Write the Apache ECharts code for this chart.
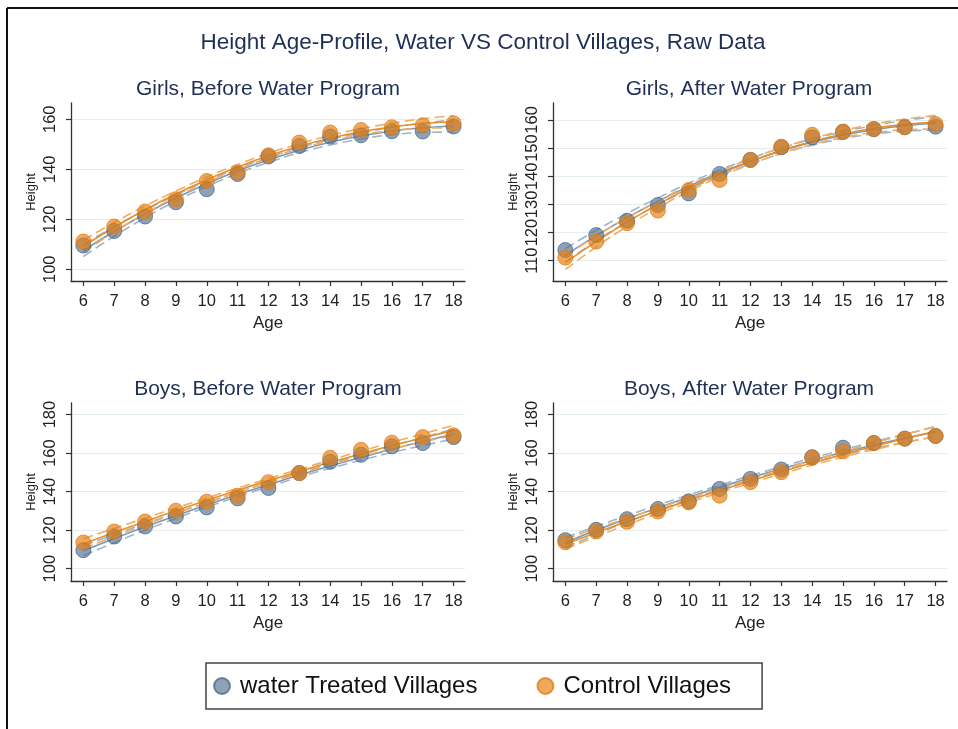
<!DOCTYPE html>
<html>
<head>
<meta charset="utf-8">
<script src="https://cdn.jsdelivr.net/npm/echarts@6/dist/echarts.min.js"></script>
<style>
  html, body { margin: 0; padding: 0; background: #fff; }
  #chart { width: 958px; height: 729px; }
</style>
</head>
<body>
<div id="chart"></div>
<script>
// ages on the x axis
var ages = [6, 7, 8, 9, 10, 11, 12, 13, 14, 15, 16, 17, 18];

// Girls, before
var girlsBeforeTreated = [109.5, 115.3, 121.1, 126.8, 132.0, 138.1, 145.1, 149.3, 153.1, 153.6, 155.2, 155.1, 157.1];
var girlsBeforeTreatedFit = [107.5, 115.1, 122.1, 128.5, 134.2, 139.3, 143.7, 147.6, 150.8, 153.3, 155.3, 156.6, 157.3];
var girlsBeforeTreatedLo = [105.1, 113.2, 120.6, 127.3, 133.1, 138.3, 142.7, 146.6, 149.7, 152.1, 153.8, 154.7, 154.9];
var girlsBeforeTreatedHi = [109.9, 117.0, 123.6, 129.7, 135.3, 140.3, 144.7, 148.6, 151.9, 154.5, 156.8, 158.5, 159.7];
var girlsBeforeControl = [111.1, 117.1, 123.1, 128.0, 135.3, 138.7, 145.6, 150.7, 154.7, 155.7, 156.8, 157.6, 158.4];
var girlsBeforeControlFit = [109.2, 116.8, 123.8, 130.1, 135.8, 140.9, 145.4, 149.2, 152.4, 155.0, 156.9, 158.3, 159.0];
var girlsBeforeControlLo = [106.8, 114.9, 122.3, 128.9, 134.7, 139.9, 144.4, 148.2, 151.3, 153.8, 155.4, 156.4, 156.6];
var girlsBeforeControlHi = [111.6, 118.7, 125.3, 131.3, 136.9, 141.9, 146.4, 150.2, 153.5, 156.2, 158.4, 160.2, 161.4];

// Girls, after
var girlsAfterTreated = [113.8, 119.1, 124.2, 129.8, 133.9, 140.8, 145.8, 150.3, 153.8, 155.7, 156.7, 157.4, 157.6];
var girlsAfterTreatedFit = [111.9, 118.9, 125.3, 131.1, 136.4, 141.2, 145.3, 149.0, 152.1, 154.6, 156.5, 157.9, 158.8];
var girlsAfterTreatedLo = [109.5, 117.0, 123.8, 129.9, 135.3, 140.2, 144.3, 148.0, 151.0, 153.4, 155.0, 156.0, 156.4];
var girlsAfterTreatedHi = [114.3, 120.8, 126.8, 132.3, 137.5, 142.2, 146.3, 150.0, 153.2, 155.8, 158.0, 159.8, 161.2];
var girlsAfterControl = [111.1, 116.8, 123.3, 127.8, 135.1, 138.7, 145.8, 150.5, 154.7, 155.9, 156.8, 157.4, 158.5];
var girlsAfterControlFit = [109.3, 116.8, 123.7, 130.0, 135.7, 140.8, 145.2, 149.1, 152.3, 155.0, 157.0, 158.4, 159.2];
var girlsAfterControlLo = [106.9, 114.9, 122.2, 128.8, 134.6, 139.8, 144.2, 148.1, 151.2, 153.8, 155.5, 156.5, 156.8];
var girlsAfterControlHi = [111.7, 118.7, 125.2, 131.2, 136.8, 141.8, 146.2, 150.1, 153.4, 156.2, 158.5, 160.3, 161.6];

// Boys, before
var boysBeforeTreated = [109.6, 116.7, 121.9, 127.1, 131.8, 136.5, 141.9, 149.6, 155.5, 159.1, 163.5, 165.2, 168.3];
var boysBeforeTreatedFit = [109.3, 115.6, 121.7, 127.5, 133.1, 138.5, 143.6, 148.6, 153.3, 157.7, 162.0, 166.0, 169.9];
var boysBeforeTreatedLo = [106.7, 113.5, 120.0, 126.1, 131.9, 137.4, 142.5, 147.5, 152.1, 156.3, 160.3, 163.9, 167.3];
var boysBeforeTreatedHi = [111.9, 117.7, 123.4, 128.9, 134.3, 139.6, 144.7, 149.7, 154.5, 159.1, 163.7, 168.1, 172.5];
var boysBeforeControl = [113.6, 119.3, 124.5, 130.1, 134.8, 137.9, 144.9, 149.7, 157.6, 161.7, 165.4, 168.3, 169.2];
var boysBeforeControlFit = [112.9, 118.8, 124.5, 130.1, 135.5, 140.7, 145.7, 150.5, 155.2, 159.6, 163.9, 167.9, 171.8];
var boysBeforeControlLo = [110.3, 116.7, 122.8, 128.7, 134.3, 139.6, 144.6, 149.4, 154.0, 158.2, 162.2, 165.8, 169.2];
var boysBeforeControlHi = [115.5, 120.9, 126.2, 131.5, 136.7, 141.8, 146.8, 151.6, 156.4, 161.0, 165.6, 170.0, 174.4];

// Boys, after
var boysAfterTreated = [114.8, 120.2, 125.7, 131.0, 135.0, 141.4, 146.6, 151.5, 157.9, 162.8, 165.2, 167.5, 168.9];
var boysAfterTreatedFit = [113.6, 119.9, 125.9, 131.6, 137.1, 142.2, 147.2, 151.8, 156.2, 160.3, 164.2, 167.7, 171.0];
var boysAfterTreatedLo = [111.0, 117.8, 124.2, 130.2, 135.9, 141.1, 146.1, 150.7, 155.0, 158.9, 162.5, 165.6, 168.4];
var boysAfterTreatedHi = [116.2, 122.0, 127.6, 133.0, 138.3, 143.3, 148.3, 152.9, 157.4, 161.7, 165.9, 169.8, 173.6];
var boysAfterControl = [113.7, 119.3, 124.3, 129.7, 134.4, 137.9, 144.9, 150.1, 157.6, 160.9, 165.2, 167.5, 168.9];
var boysAfterControlFit = [112.8, 118.7, 124.5, 130.0, 135.4, 140.6, 145.5, 150.3, 154.9, 159.3, 163.5, 167.5, 171.3];
var boysAfterControlLo = [110.2, 116.6, 122.8, 128.6, 134.2, 139.5, 144.4, 149.2, 153.7, 157.9, 161.8, 165.4, 168.7];
var boysAfterControlHi = [115.4, 120.8, 126.2, 131.4, 136.6, 141.7, 146.6, 151.4, 156.1, 160.7, 165.2, 169.6, 173.9];

// tick labels
var girlsTicks = [100, 120, 140, 160];
var girlsAfterTicks = [110, 120, 130, 140, 150, 160];
var boysTicks = [100, 120, 140, 160, 180];

var panels = [
  { title: "Girls, Before Water Program", cx: 263, ty: 74, left: 71, top: 103, yMin: 95.3, yMax: 166.5, ticks: girlsTicks,
    t: girlsBeforeTreated, tFit: girlsBeforeTreatedFit, tLo: girlsBeforeTreatedLo, tHi: girlsBeforeTreatedHi,
    c: girlsBeforeControl, cFit: girlsBeforeControlFit, cLo: girlsBeforeControlLo, cHi: girlsBeforeControlHi },
  { title: "Girls, After Water Program", cx: 744, ty: 74, left: 553, top: 103, yMin: 102.8, yMax: 166.0, ticks: girlsAfterTicks,
    t: girlsAfterTreated, tFit: girlsAfterTreatedFit, tLo: girlsAfterTreatedLo, tHi: girlsAfterTreatedHi,
    c: girlsAfterControl, cFit: girlsAfterControlFit, cLo: girlsAfterControlLo, cHi: girlsAfterControlHi },
  { title: "Boys, Before Water Program", cx: 263, ty: 374, left: 71, top: 403, yMin: 93.6, yMax: 186.0, ticks: boysTicks,
    t: boysBeforeTreated, tFit: boysBeforeTreatedFit, tLo: boysBeforeTreatedLo, tHi: boysBeforeTreatedHi,
    c: boysBeforeControl, cFit: boysBeforeControlFit, cLo: boysBeforeControlLo, cHi: boysBeforeControlHi },
  { title: "Boys, After Water Program", cx: 744, ty: 374, left: 553, top: 403, yMin: 93.6, yMax: 186.0, ticks: boysTicks,
    t: boysAfterTreated, tFit: boysAfterTreatedFit, tLo: boysAfterTreatedLo, tHi: boysAfterTreatedHi,
    c: boysAfterControl, cFit: boysAfterControlFit, cLo: boysAfterControlLo, cHi: boysAfterControlHi }
];

var font = "'Liberation Sans', Arial, sans-serif";
var navy = "#1f2f56";
var blueDot = "rgba(76,110,146,0.8)";
var orangeDot = "rgba(232,128,18,0.86)";

function pairs(vals) {
  return ages.map(function (a, j) { return [a, vals[j]]; });
}

var chartDom = document.getElementById("chart");
var myChart = echarts.init(chartDom);

var titles = [{
  text: "Height Age-Profile, Water VS Control Villages, Raw Data",
  left: 478, top: 26, textAlign: "center",
  textStyle: { color: navy, fontSize: 22.5, fontWeight: "normal", fontFamily: font }
}];
var grids = [], xAxes = [], yAxes = [], series = [];

panels.forEach(function (p, i) {
  titles.push({
    text: p.title, left: p.cx, top: p.ty, textAlign: "center",
    textStyle: { color: navy, fontSize: 21, fontWeight: "normal", fontFamily: font }
  });
  grids.push({ left: p.left, top: p.top, width: 394, height: 178 });
  xAxes.push({
    type: "value", gridIndex: i, min: 5.6, max: 18.37,
    name: "Age", nameLocation: "middle", nameGap: 34,
    nameTextStyle: { color: "#222", fontSize: 17, fontFamily: font },
    axisLine: { lineStyle: { color: "#333", width: 1.3 } },
    axisTick: { length: 5, customValues: ages, lineStyle: { color: "#333", width: 1.2 } },
    axisLabel: { customValues: ages, color: "#222", fontSize: 16.5, margin: 12, fontFamily: font },
    splitLine: { show: false }
  });
  yAxes.push({
    type: "value", gridIndex: i, min: p.yMin, max: p.yMax,
    name: "Height", nameLocation: "middle", nameGap: 33,
    nameTextStyle: { color: "#222", fontSize: 13, fontFamily: font },
    axisLine: { show: true, lineStyle: { color: "#333", width: 1.3 } },
    axisTick: { show: true, length: 5, customValues: p.ticks, lineStyle: { color: "#333", width: 1.2 } },
    axisLabel: { customValues: p.ticks, rotate: 90, color: "#222", fontSize: 16.5, margin: 12, fontFamily: font },
    splitLine: { show: true, lineStyle: { color: "#e4eef1", width: 1 } }
  });

  var groups = [
    { pts: p.t, fit: p.tFit, lo: p.tLo, hi: p.tHi, name: "water Treated Villages",
      line: "#7a97b6", dash: "#9fb5cb", dot: blueDot, edge: "rgba(68,98,132,0.9)" },
    { pts: p.c, fit: p.cFit, lo: p.cLo, hi: p.cHi, name: "Control Villages",
      line: "#e8902a", dash: "#f0ae62", dot: orangeDot, edge: "rgba(220,120,16,0.9)" }
  ];
  groups.forEach(function (g, k) {
    [g.lo, g.hi].forEach(function (band, b) {
      series.push({
        name: "ci" + i + k + b, type: "line", xAxisIndex: i, yAxisIndex: i,
        data: pairs(band), smooth: true, showSymbol: false, silent: true,
        lineStyle: { color: g.dash, width: 1.6, type: [10, 5] }, z: 2
      });
    });
    series.push({
      name: "fit" + i + k, type: "line", xAxisIndex: i, yAxisIndex: i,
      data: pairs(g.fit), smooth: true, showSymbol: false, silent: true,
      lineStyle: { color: g.line, width: 1.6 }, z: 2
    });
  });
  groups.forEach(function (g) {
    series.push({
      name: g.name, type: "scatter", xAxisIndex: i, yAxisIndex: i,
      data: pairs(g.pts), symbolSize: 15,
      itemStyle: { color: g.dot, borderColor: g.edge, borderWidth: 1 }, z: 3
    });
  });
});

var option = {
  backgroundColor: "#fff",
  animation: false,
  title: titles,
  grid: grids,
  xAxis: xAxes,
  yAxis: yAxes,
  legend: {
    data: ["water Treated Villages", "Control Villages"],
    left: 206, top: 663,
    icon: "circle", itemWidth: 26, itemHeight: 16, itemGap: 59,
    padding: [11, 31, 11, 7],
    borderColor: "#444", borderWidth: 1.5,
    textStyle: { color: "#111", fontSize: 24, fontFamily: font }
  },
  graphic: [
    { type: "line", shape: { x1: 7, y1: 8, x2: 958, y2: 8 }, style: { stroke: "#111", lineWidth: 2 } },
    { type: "line", shape: { x1: 7, y1: 8, x2: 7, y2: 729 }, style: { stroke: "#111", lineWidth: 2 } }
  ],
  series: series
};

option && myChart.setOption(option);
</script>
</body>
</html>
